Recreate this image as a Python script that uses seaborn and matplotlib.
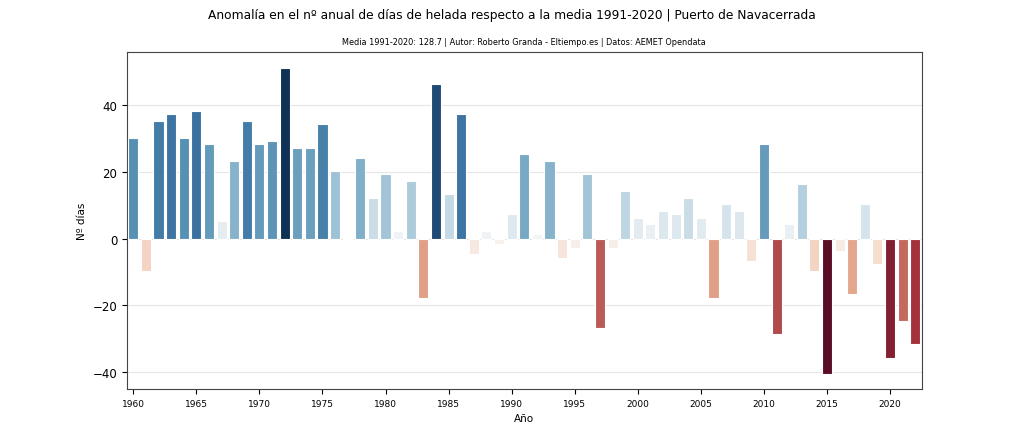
import numpy as np
import pandas as pd
import seaborn as sns
import matplotlib.pyplot as plt
from matplotlib.colors import TwoSlopeNorm

years = list(range(1960, 2023))
anomalies = [
    30.3, -9.7, 35.3, 37.3, 30.3, 38.3, 28.3, 5.3, 23.3, 35.3,   # 1960-1969
    28.3, 29.3, 51.3, 27.3, 27.3, 34.3, 20.3, 0.3, 24.3, 12.3,   # 1970-1979
    19.3, 2.3, 17.3, -17.7, 46.3, 13.3, 37.3, -4.7, 2.3, -1.7,   # 1980-1989
    7.3, 25.3, 1.3, 23.3, -5.7, -2.7, 19.3, -26.7, -2.7, 14.3,   # 1990-1999
    6.3, 4.3, 8.3, 7.3, 12.3, 6.3, -17.7, 10.3, 8.3, -6.7,       # 2000-2009
    28.3, -28.7, 4.3, 16.3, -9.7, -40.7, -3.7, -16.7, 10.3, -7.7,  # 2010-2019
    -35.7, -24.7, -31.7,                                          # 2020-2022
]
tick_years = list(range(1960, 2021, 5))

df = pd.DataFrame({"Año": years, "Anomalia": anomalies})

# color by anomaly, diverging around zero
norm = TwoSlopeNorm(vmin=min(anomalies), vcenter=0, vmax=max(anomalies))
cmap = plt.get_cmap("RdBu")
colors = [cmap(norm(v)) for v in anomalies]

fig, ax = plt.subplots(figsize=(10.24, 4.39), dpi=100)
sns.barplot(data=df, x="Año", y="Anomalia", hue="Año", palette=colors,
            legend=False, edgecolor="white", linewidth=0.8, ax=ax, zorder=3)

ax.set_xlim(-0.5, len(years) - 0.5)
ax.set_ylim(-45, 56)
ax.set_yticks([-40, -20, 0, 20, 40])
ax.yaxis.grid(True, color="#e6e6e6", linewidth=0.8, zorder=0)
ax.set_axisbelow(True)

pos = [years.index(y) for y in tick_years]
ax.set_xticks(pos)
ax.set_xticklabels([str(y) for y in tick_years], fontsize=6.5)
ax.tick_params(axis="y", labelsize=8.5)
ax.set_xlabel("Año", fontsize=7.5)
ax.set_ylabel("Nº días", fontsize=7.5)
for s in ax.spines.values():
    s.set_color("#444444")

fig.suptitle("Anomalía en el nº anual de días de helada respecto a la media 1991-2020 | Puerto de Navacerrada",
             fontsize=8.8, y=0.98)
ax.set_title("Media 1991-2020: 128.7 | Autor: Roberto Granda - Eltiempo.es | Datos: AEMET Opendata",
             fontsize=5.9, pad=6)

plt.subplots_adjust(left=0.124, right=0.9, top=0.879, bottom=0.112)
plt.savefig("out.png", dpi=100)
